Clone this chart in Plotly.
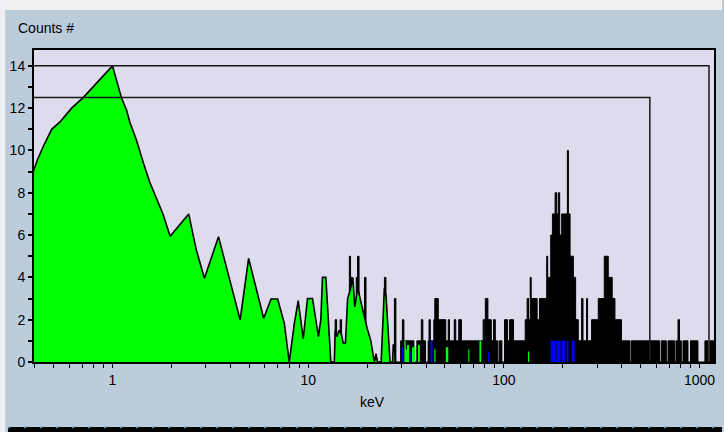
import math
import plotly.graph_objects as go

# ---- spectrum data (energy in keV, counts per channel) ----
# low-energy spectrum drawn as a green filled curve
green_kev = [0.39, 0.413, 0.443, 0.489, 0.539, 0.618, 0.708, 0.845, 1.0, 1.11, 1.18,
             1.225, 1.325, 1.44, 1.55, 1.81, 1.97, 2.45, 2.68, 2.95, 3.48, 4.49, 4.96,
             5.92, 6.46, 6.98, 7.55, 8.0, 8.49, 8.89, 9.43, 9.92, 10.52, 11.28, 11.6,
             11.83, 12.31, 13.05, 13.6, 13.75, 14.0, 14.4, 14.8, 15.1, 15.5, 15.9, 16.4,
             16.9, 17.3, 17.9, 18.6, 19.3, 20.0, 20.9, 21.5, 21.8, 22.2, 22.6, 23.6,
             24.0, 24.5, 25.0, 25.6, 26.2, 27.0, 27.2, 27.6, 27.8]
green_counts = [8.9, 9.55, 10.2, 11.0, 11.35, 12.0, 12.5, 13.25, 14.0, 12.5, 11.9,
                11.35, 10.5, 9.4, 8.5, 7.0, 5.95, 7.0, 5.3, 3.96, 5.92, 1.99, 4.9,
                2.07, 2.98, 2.98, 1.83, 0.0, 1.8, 2.9, 1.1, 3.0, 3.0, 1.2, 2.0,
                4.0, 4.0, 0.0, 0.0, 1.5, 1.2, 1.5, 1.3, 0.9, 0.9, 3.0, 3.4,
                4.0, 2.6, 3.5, 2.9, 2.2, 1.6, 1.0, 0.3, 0.0, 0.4, 0.0, 0.0,
                2.0, 3.5, 3.1, 1.5, 0.0, 0.0, 0.8, 0.8, 0.0]

# isolated green hits above 28 keV (bin left edge, counts)
green_hit_kev = [28.0, 31.0, 31.5, 32.0, 32.8, 33.9, 35.3, 36.4, 37.2, 44.1, 44.7,
                 50.5, 52.0, 65.8, 66.6, 75.0, 76.5, 132.8, 134.6]
green_hit_counts = [0, 1.0, 0.6, 0.8, 0, 0.7, 0, 0.8, 0, 0.6, 0,
                    0.7, 0, 0.6, 0, 1.0, 0, 0.5, 0]

# total histogram (bin left edge, counts)
black_kev = [8.0, 13.73, 13.97, 14.56, 14.81, 16.23, 16.46, 16.75, 17.60, 17.77, 17.87,
             18.19, 19.40, 19.74, 24.52, 24.96, 27.58, 28.06, 29.67, 30.30, 30.83,
             34.67, 35.91, 37.85, 38.53, 39.77, 41.01, 41.44, 42.07, 43.84, 44.36,
             46.21, 50.47, 51.97, 52.71, 55.76, 56.75, 58.79, 60.67, 78.34, 79.73,
             80.39, 82.87, 86.24, 88.60, 90.39, 93.18, 94.74, 97.66, 100.8, 104.4,
             106.9, 112.0, 128.5, 131.5, 133.6, 136.3, 137.9, 147.9, 152.0, 165.5,
             167.5, 173.5, 177.0, 182.7, 186.2, 189.9, 192.8, 197.4, 211.1, 213.6,
             217.9, 226.5, 232.6, 240.1, 249.6, 253.7, 264.6, 267.7, 280.6, 303.6,
             325.8, 341.5, 357.8, 369.4, 399.0, 440.4, 447.2, 626.0, 637.9, 676.4,
             690.1, 746.4, 757.8, 775.8, 789.7, 806.4, 822.7, 872.5, 898.4, 981.0,
             1065.0, 1103.0, 1130.0, 1190.0]
black_counts = [0, 2, 0, 2, 0, 5, 4, 0, 4, 0, 5,
                0, 4, 0, 4, 0, 3, 0, 1, 2, 1,
                0, 1, 2, 1, 0, 1, 2, 1, 2, 3,
                2, 1, 2, 1, 2, 1, 2, 1, 2, 1,
                3, 2, 1, 2, 1, 0, 1, 0, 2, 1,
                2, 1, 2, 3, 2, 4, 3, 2, 3, 5,
                4, 6, 7, 8, 7, 8, 6, 7, 10, 7,
                5, 4, 2, 1, 3, 1, 3, 1, 2, 3,
                5, 4, 3, 2, 1, 0, 1, 0, 1, 0,
                1, 0, 1, 2, 1, 0, 1, 0, 1, 0,
                1, 0, 1, 1]

# blue hits (bin left edge, counts)
blue_kev = [28.0, 30.1, 30.6, 32.9, 33.4, 42.2, 43.2, 83.0, 84.0, 173.5, 185.0,
            186.2, 195.0, 197.4, 205.0, 209.0, 213.6, 222.0, 230.0]
blue_counts = [0, 0.7, 0, 0.5, 0, 1.0, 0, 0.5, 0, 1, 0,
               1, 0, 1, 0, 1, 0, 1, 0]

# region markers: upper energy (keV) and level (counts)
roi_kev = [557.0, 1117.0]
roi_level = [12.5, 14.0]

# axis extents and tick labels
x_min_kev, x_max_kev = 0.397, 1185.0
y_max = 14.75
x_labels = {1: "1", 10: "10", 100: "100", 1000: "1000"}
y_labels = {0: "0", 2: "2", 4: "4", 6: "6", 8: "8", 10: "10", 12: "12", 14: "14"}

# ---- page geometry (pixels) ----
W, H = 724, 432
L, R, T, B = 34, 716, 50, 362

def fx(px):
    return (px - L) / (R - L)

def fy(py):
    return (B - py) / (B - T)

FONT = "Liberation Sans, Arial, sans-serif"
NARROW = "Liberation Sans Narrow, Liberation Sans, Arial, sans-serif"

fig = go.Figure()

fig.add_trace(go.Scatter(
    x=black_kev, y=black_counts, mode="lines",
    line=dict(shape="hv", color="black", width=1),
    fill="tozeroy", fillcolor="black", hoverinfo="skip"))

fig.add_trace(go.Scatter(
    x=green_kev, y=green_counts, mode="lines",
    line=dict(color="black", width=1.6),
    fill="tozeroy", fillcolor="#00FF00", hoverinfo="skip"))

fig.add_trace(go.Scatter(
    x=green_hit_kev, y=green_hit_counts, mode="lines",
    line=dict(shape="hv", color="#00FF00", width=0),
    fill="tozeroy", fillcolor="#00FF00", hoverinfo="skip"))

fig.add_trace(go.Scatter(
    x=blue_kev, y=blue_counts, mode="lines",
    line=dict(shape="hv", color="#0000FF", width=0),
    fill="tozeroy", fillcolor="#0000FF", hoverinfo="skip"))

for kev, level in zip(roi_kev, roi_level):
    fig.add_trace(go.Scatter(
        x=[x_min_kev, kev, kev], y=[level, level, 0], mode="lines",
        line=dict(color="#1a1a1a", width=1.5), hoverinfo="skip"))

# tick positions: every integer multiple within each decade
x_ticks = [m * 10 ** e for e in range(-1, 3) for m in range(1, 10)] + [1000]
x_ticks = [t for t in x_ticks if x_min_kev <= t <= x_max_kev]
x_text = [x_labels.get(round(t, 6), "") if t >= 1 else "" for t in x_ticks]
x_text = [x_labels.get(int(t), "") if float(t).is_integer() else "" for t in x_ticks]
y_ticks = list(range(0, 15))
y_text = [y_labels.get(t, "") for t in y_ticks]

fig.update_xaxes(
    type="log", range=[math.log10(x_min_kev), math.log10(x_max_kev)],
    tickmode="array", tickvals=x_ticks, ticktext=x_text,
    ticks="outside", ticklen=4, tickwidth=1.2, tickcolor="black",
    showgrid=False, zeroline=False,
    showline=True, linecolor="black", linewidth=1.5, mirror=True,
    tickfont=dict(family=FONT, size=14, color="black"))

fig.update_yaxes(
    range=[0, y_max], tickmode="array", tickvals=y_ticks, ticktext=y_text,
    ticks="outside", ticklen=4, tickwidth=1.5, tickcolor="black",
    showgrid=False, zeroline=False,
    showline=True, linecolor="black", linewidth=2, mirror=True,
    tickfont=dict(family=NARROW, size=14, color="black"))

shapes = [
    # light window strips along the top and left
    dict(type="rect", xref="paper", yref="paper", x0=fx(0), x1=fx(W), y0=fy(10), y1=fy(0),
         fillcolor="#EEF0F2", line=dict(width=0)),
    dict(type="rect", xref="paper", yref="paper", x0=fx(0), x1=fx(5), y0=fy(H), y1=fy(0),
         fillcolor="#EEF0F2", line=dict(width=0)),
    # dark band at the bottom edge
    dict(type="rect", xref="paper", yref="paper", x0=fx(8), x1=fx(W), y0=fy(H), y1=fy(427),
         fillcolor="black", line=dict(width=0)),
    dict(type="line", xref="paper", yref="paper", x0=fx(8), x1=fx(W), y0=fy(427.5), y1=fy(427.5),
         line=dict(color="#3aa0b0", width=1.5, dash="2px,14px")),
]

annotations = [
    dict(text="Counts #", xref="paper", yref="paper", x=fx(16), y=fy(28),
         xanchor="left", yanchor="middle", showarrow=False,
         font=dict(family=FONT, size=14, color="black")),
    dict(text="keV", xref="paper", yref="paper", x=fx(373.5), y=fy(402),
         xanchor="center", yanchor="middle", showarrow=False,
         font=dict(family=FONT, size=14, color="black")),
]

fig.update_layout(
    width=W, height=H, autosize=False,
    margin=dict(l=L, r=W - R, t=T, b=H - B, pad=0),
    paper_bgcolor="#BCCCDB", plot_bgcolor="#DCDCEC",
    showlegend=False, shapes=shapes, annotations=annotations)

fig.write_html("out.html")
